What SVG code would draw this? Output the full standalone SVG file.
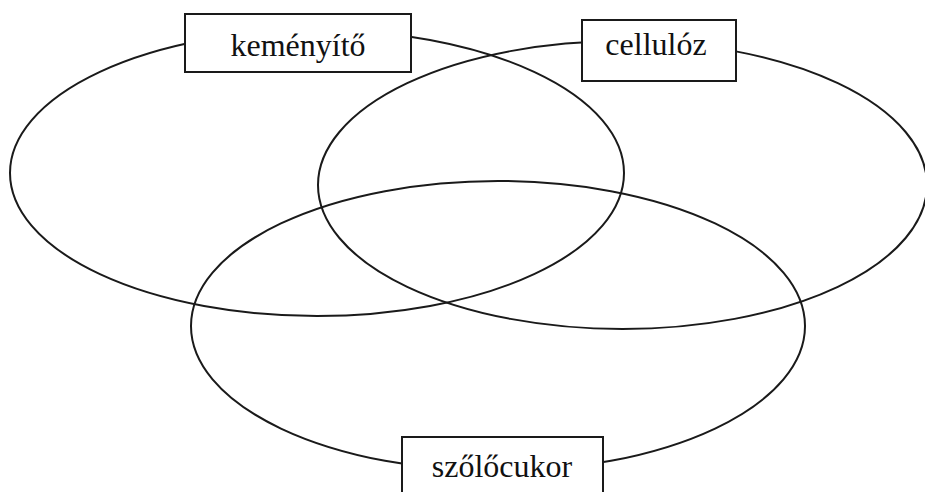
<svg xmlns="http://www.w3.org/2000/svg" width="925" height="492" viewBox="0 0 925 492">
<style>
.e{fill:none;stroke:#1a1a1a;stroke-width:2}
.b{fill:#fff;stroke:#1a1a1a;stroke-width:2}
.t{font-family:"Liberation Serif","Times New Roman",serif;font-size:32px;fill:#111;text-anchor:middle}
</style>
<rect width="925" height="492" fill="#fff"/>
<g id="connectors">
<ellipse id="ellipse-kemenyito" class="e" cx="317" cy="173" rx="307" ry="143"/>
<ellipse id="ellipse-cellulóz" class="e" cx="622.5" cy="185" rx="304.5" ry="144"/>
<ellipse id="ellipse-szolocukor" class="e" cx="498" cy="326" rx="307" ry="145"/>
</g>
<g id="node-kemenyito">
<rect class="b" x="185" y="14" width="226" height="58"/>
<text class="t" x="298" y="56">keményítő</text>
</g>
<g id="node-cellulóz">
<rect class="b" x="582" y="20" width="154" height="61"/>
<text class="t" x="656" y="55">cellulóz</text>
</g>
<g id="node-szolocukor">
<rect class="b" x="402" y="437" width="201" height="70"/>
<text class="t" x="502" y="477">szőlőcukor</text>
</g>
</svg>
